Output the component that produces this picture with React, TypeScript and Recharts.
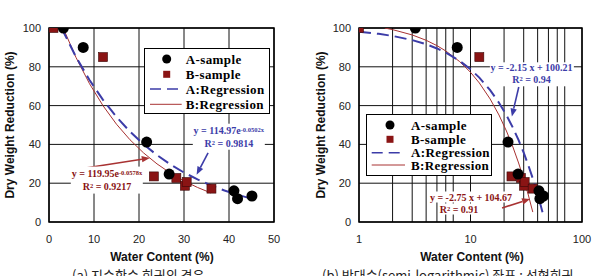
import React from 'react';
import {
  ComposedChart,
  XAxis,
  YAxis,
  CartesianGrid,
  Line,
  Scatter,
  ReferenceLine,
  ReferenceArea,
} from 'recharts';

// Measured samples (water content %, dry weight reduction %)
const sampleAWater = [3.2, 7.6, 21.7, 26.7, 41.1, 41.9, 45.1];
const sampleAReduction = [100, 90, 41.2, 24.7, 16.1, 12, 13.4];
const sampleBWater = [1, 12, 23.3, 28.3, 30.2, 30.6, 36.1];
const sampleBReduction = [100, 85, 23.5, 22.7, 18.7, 20.6, 17.2];

// Exponential fits: A  y = 114.97e^(-0.0502x), B  y = 119.95e^(-0.0578x)
const expAWater = [2.8, 6, 9, 12, 15, 18, 21, 24, 27, 30, 33, 36, 39, 42, 45];
const expAReduction = [99.9, 85.07, 73.18, 62.95, 54.15, 46.58, 40.07, 34.47, 29.65, 25.5, 21.94, 18.87, 16.23, 13.96, 12.01];
const expBWater = [3.15, 6, 9, 12, 15, 18, 21, 24, 27, 30, 33, 36];
const expBReduction = [99.98, 84.81, 71.3, 59.95, 50.4, 42.38, 35.64, 29.96, 25.19, 21.18, 17.81, 14.97];

// Linear fits on semi-log axes: A  y = -2.15x + 100.21, B  y = -2.75x + 104.67
const linAWater = [1, 1.5, 2, 3, 4, 5, 6, 8, 10, 12, 15, 18, 21, 24, 27, 30, 33, 36, 39, 42, 45];
const linAReduction = [98.06, 96.99, 95.91, 93.76, 91.61, 89.46, 87.31, 83.01, 78.71, 74.41, 67.96, 61.51, 55.06, 48.61, 42.16, 35.71, 29.26, 22.81, 16.36, 9.91, 3.46];
const linBWater = [1.7, 2, 3, 4, 5, 6, 8, 10, 12, 15, 18, 21, 24, 27, 30, 33, 36.2];
const linBReduction = [100, 99.17, 96.42, 93.67, 90.92, 88.17, 82.67, 77.17, 71.67, 63.42, 55.17, 46.92, 38.67, 30.42, 22.17, 13.92, 5.12];

const yTicks = [0, 20, 40, 60, 80, 100];
const linearXTicks = [0, 10, 20, 30, 40, 50];
const logXTicks = [1, 2, 3, 4, 5, 6, 7, 8, 9, 10, 20, 30, 40, 50, 60, 70, 80, 90, 100];
const logXLabels = [1, 10, 100];

const BLUE = '#3c3ca8';
const RED = '#a83232';
const DARK_RED = '#8a1414';
const SANS = '"Liberation Sans", Arial, sans-serif';
const SERIF = '"Liberation Serif", "Times New Roman", serif';

const zip = (xs: number[], ys: number[]) => xs.map((x, i) => ({ x, y: ys[i] }));

const pointsA = zip(sampleAWater, sampleAReduction);
const pointsB = zip(sampleBWater, sampleBReduction);
const expA = zip(expAWater, expAReduction);
const expB = zip(expBWater, expBReduction);
const linA = zip(linAWater, linAReduction);
const linB = zip(linBWater, linBReduction);

const circleShape = (p: any) => <circle cx={p.cx} cy={p.cy} r={5.5} fill="#000" />;
const squareShape = (p: any) => (
  <rect x={p.cx - 4.5} y={p.cy - 4.5} width={9} height={9} fill={DARK_RED} stroke="#3a0808" strokeWidth={0.6} />
);

const arrowShape = (color: string) => (p: any) => {
  const { x1, y1, x2, y2 } = p;
  const ang = Math.atan2(y2 - y1, x2 - x1);
  const len = 8;
  const w = 3.2;
  const bx = x2 - len * Math.cos(ang);
  const by = y2 - len * Math.sin(ang);
  const pts = `${x2},${y2} ${bx - w * Math.sin(ang)},${by + w * Math.cos(ang)} ${bx + w * Math.sin(ang)},${by - w * Math.cos(ang)}`;
  return (
    <g>
      <line x1={x1} y1={y1} x2={bx} y2={by} stroke={color} strokeWidth={1.6} />
      <polygon points={pts} fill={color} />
    </g>
  );
};

const tickStyle = { fontSize: 11, fontFamily: SANS, fill: '#222' };

function Note({ left, top, color, lineHeight, children }: any) {
  return (
    <div
      style={{
        position: 'absolute',
        left,
        top,
        transform: 'translate(-50%, -50%)',
        fontFamily: SERIF,
        fontWeight: 'bold',
        fontSize: 10,
        lineHeight: `${lineHeight}px`,
        color,
        background: '#fff',
        whiteSpace: 'nowrap',
        textAlign: 'center',
        padding: '0 1px',
      }}
    >
      {children}
    </div>
  );
}

const Sup = ({ children }: any) => (
  <sup style={{ fontSize: 6.5, verticalAlign: 'top', position: 'relative', top: -1 }}>{children}</sup>
);

function LegendBox({ left, top, width, height, rows, markerX, lineX1, lineX2, textX }: any) {
  return (
    <svg style={{ position: 'absolute', left, top }} width={width} height={height}>
      <rect x={0.5} y={0.5} width={width - 1} height={height - 1} fill="#fff" stroke="#000" strokeWidth={1} />
      <circle cx={markerX} cy={rows[0]} r={4.5} fill="#000" />
      <rect x={markerX - 3.5} y={rows[1] - 3.5} width={7} height={7} fill={DARK_RED} />
      <line x1={lineX1} y1={rows[2]} x2={lineX2} y2={rows[2]} stroke={BLUE} strokeWidth={1.6} strokeDasharray="11 6" />
      <line x1={lineX1} y1={rows[3]} x2={lineX2} y2={rows[3]} stroke={RED} strokeWidth={1} />
      {['A-sample', 'B-sample', 'A:Regression', 'B:Regression'].map((t, i) => (
        <text
          key={t}
          x={textX}
          y={rows[i]}
          dy="0.35em"
          fontFamily={SERIF}
          fontWeight="bold"
          fontSize={13}
          letterSpacing={0.4}
          fill="#000"
        >
          {t}
        </text>
      ))}
    </svg>
  );
}

const axisTitle: React.CSSProperties = {
  position: 'absolute',
  fontFamily: SANS,
  fontWeight: 'bold',
  fontSize: 12,
  lineHeight: '14px',
  color: '#111',
  whiteSpace: 'nowrap',
  transform: 'translate(-50%, -50%)',
};

const caption: React.CSSProperties = {
  position: 'absolute',
  fontFamily: '"Noto Sans CJK KR", "Noto Sans", sans-serif',
  fontSize: 13,
  lineHeight: '16px',
  color: '#222',
  whiteSpace: 'nowrap',
};

export default function App() {
  return (
    <div style={{ position: 'absolute', left: 0, top: 0, width: 598, height: 276, background: '#fff', overflow: 'hidden' }}>
      {/* (a) exponential regression, linear axes */}
      <div style={{ position: 'absolute', left: 0, top: 0 }}>
        <ComposedChart width={300} height={276} margin={{ top: 28, right: 26, bottom: 0, left: 0 }}>
          <CartesianGrid stroke="#111" strokeWidth={1} />
          <XAxis
            type="number"
            dataKey="x"
            domain={[0, 50]}
            ticks={linearXTicks}
            allowDataOverflow
            axisLine={false}
            tickLine={false}
            tickMargin={7}
            height={54}
            tick={tickStyle}
          />
          <YAxis
            type="number"
            dataKey="y"
            domain={[0, 100]}
            ticks={yTicks}
            allowDataOverflow
            axisLine={false}
            tickLine={false}
            width={49}
            tick={tickStyle}
          />
          <ReferenceArea x1={0} x2={50} y1={0} y2={100} fill="none" stroke="#000" strokeWidth={1.5} />
          <Line data={expB} dataKey="y" stroke={RED} strokeWidth={1} dot={false} isAnimationActive={false} />
          <Line data={expA} dataKey="y" stroke={BLUE} strokeWidth={2} strokeDasharray="12 6" dot={false} isAnimationActive={false} />
          <ReferenceLine segment={[{ x: 35.35, y: 35.6 }, { x: 32.8, y: 24.4 }]} shape={arrowShape(BLUE)} />
          <ReferenceLine segment={[{ x: 6.3, y: 27.2 }, { x: 22.4, y: 33.0 }]} shape={arrowShape(RED)} />
          <Scatter data={pointsB} shape={squareShape} isAnimationActive={false} />
          <Scatter data={pointsA} shape={circleShape} isAnimationActive={false} />
        </ComposedChart>
      </div>

      {/* (b) linear regression, semi-log axes */}
      <div style={{ position: 'absolute', left: 298, top: 0 }}>
        <ComposedChart width={300} height={276} margin={{ top: 28, right: 16, bottom: 0, left: 0 }}>
          <CartesianGrid stroke="#111" strokeWidth={1} />
          <XAxis
            type="number"
            dataKey="x"
            scale="log"
            domain={[1, 100]}
            ticks={logXTicks}
            tickFormatter={(v: number) => (logXLabels.includes(v) ? String(v) : '')}
            allowDataOverflow
            axisLine={false}
            tickLine={false}
            tickMargin={7}
            height={54}
            tick={tickStyle}
          />
          <YAxis
            type="number"
            dataKey="y"
            domain={[0, 100]}
            ticks={yTicks}
            allowDataOverflow
            axisLine={false}
            tickLine={false}
            width={61}
            tick={tickStyle}
          />
          <ReferenceArea x1={1} x2={100} y1={0} y2={100} fill="none" stroke="#000" strokeWidth={1.5} />
          <Line data={linB} dataKey="y" stroke={RED} strokeWidth={1} dot={false} isAnimationActive={false} />
          <Line data={linA} dataKey="y" stroke={BLUE} strokeWidth={2} strokeDasharray="12 6" dot={false} isAnimationActive={false} />
          <ReferenceLine segment={[{ x: 27.1, y: 69.6 }, { x: 23.5, y: 54.4 }]} shape={arrowShape(BLUE)} />
          <ReferenceLine segment={[{ x: 19.2, y: 7.2 }, { x: 34.2, y: 11.9 }]} shape={arrowShape(RED)} />
          <Scatter data={pointsB} shape={squareShape} isAnimationActive={false} />
          <Scatter data={pointsA} shape={circleShape} isAnimationActive={false} />
        </ComposedChart>
      </div>

      {/* legends */}
      <LegendBox left={144} top={48} width={126} height={66} rows={[11, 26.3, 41, 56.3]} markerX={22.7} lineX1={6} lineX2={37.7} textX={41.7} />
      <LegendBox left={366} top={114} width={126} height={62} rows={[11, 25.3, 38.7, 51]} markerX={24} lineX1={5.7} lineX2={39} textX={45} />

      {/* regression equations */}
      <Note left={228.8} top={136.7} color={BLUE} lineHeight={13.3}>
        <div>y = 114.97e<Sup>-0.0502x</Sup></div>
        <div>R<Sup>2</Sup> = 0.9814</div>
      </Note>
      <Note left={107} top={180} color={DARK_RED} lineHeight={13.4}>
        <div>y = 119.95e<Sup>-0.0578x</Sup></div>
        <div>R<Sup>2</Sup> = 0.9217</div>
      </Note>
      <Note left={531.5} top={74.2} color={BLUE} lineHeight={11.7}>
        <div>y = -2.15 x + 100.21</div>
        <div>R<Sup>2</Sup> = 0.94</div>
      </Note>
      <Note left={471} top={196.7} color={DARK_RED} lineHeight={11}>
        y = -2.75 x + 104.67
      </Note>
      <Note left={459} top={209} color={DARK_RED} lineHeight={11}>
        R<Sup>2</Sup> = 0.91
      </Note>

      {/* axis titles */}
      <div style={{ ...axisTitle, left: 162, top: 256.5 }}>Water Content (%)</div>
      <div style={{ ...axisTitle, left: 472, top: 256.5 }}>Water Content (%)</div>
      <div style={{ ...axisTitle, left: 9.5, top: 125, transform: 'translate(-50%, -50%) rotate(-90deg)' }}>Dry Weight Reduction (%)</div>
      <div style={{ ...axisTitle, left: 320.5, top: 125, transform: 'translate(-50%, -50%) rotate(-90deg)' }}>Dry Weight Reduction (%)</div>

      {/* captions */}
      <div style={{ ...caption, left: 72, top: 267 }}>(a) 지수함수 회귀의 경우</div>
      <div style={{ ...caption, left: 322, top: 267 }}>(b) 반대수(semi-logarithmic) 좌표 : 선형회귀</div>
    </div>
  );
}
